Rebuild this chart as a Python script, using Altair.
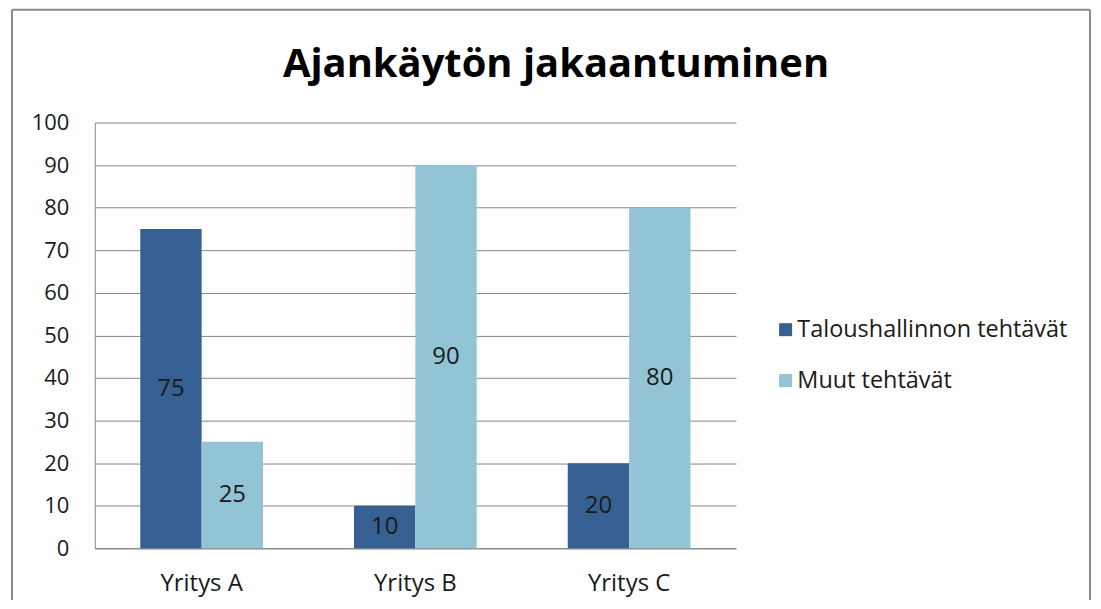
import altair as alt
import pandas as pd

companies = ["Yritys A", "Yritys B", "Yritys C"]
series_names = ["Taloushallinnon tehtävät", "Muut tehtävät"]
talous = [75, 10, 20]
muut = [25, 90, 80]
y_ticks = [0, 10, 20, 30, 40, 50, 60, 70, 80, 90, 100]
colors = ["#376092", "#93C4D6"]

rows = []
for c, t, m in zip(companies, talous, muut):
    rows.append({"company": c, "series": series_names[0], "value": t})
    rows.append({"company": c, "series": series_names[1], "value": m})
df = pd.DataFrame(rows)

FONT = "Open Sans"
GRID = "#868686"
TXT = "#1a1a1a"

base = alt.Chart(df).encode(
    x=alt.X(
        "company:N",
        sort=companies,
        scale=alt.Scale(paddingInner=0.426, paddingOuter=0.213),
        axis=alt.Axis(title=None, labelAngle=0, ticks=False, domainColor=GRID,
                      labelFontSize=24, labelPadding=23, labelColor=TXT, labelFont=FONT),
    ),
    xOffset=alt.XOffset("series:N", sort=series_names,
                        scale=alt.Scale(paddingInner=0, paddingOuter=0)),
)

bars = base.mark_bar().encode(
    y=alt.Y(
        "value:Q",
        scale=alt.Scale(domain=[0, 100]),
        axis=alt.Axis(values=y_ticks, title=None, ticks=False, domainColor=GRID,
                      gridColor=GRID, gridWidth=1, labelFontSize=22, labelPadding=26,
                      labelColor=TXT, labelFont=FONT),
    ),
    color=alt.Color(
        "series:N",
        sort=series_names,
        scale=alt.Scale(domain=series_names, range=colors),
        legend=alt.Legend(
            title=None, orient="none", legendX=681, legendY=196,
            symbolType="square", symbolSize=170, symbolStrokeWidth=0,
            labelFontSize=23.5, labelFont=FONT, labelColor=TXT, labelLimit=400,
            rowPadding=26, labelOffset=0,
        ),
    ),
)

labels = base.transform_calculate(mid="datum.value / 2").mark_text(
    fontSize=24, font=FONT, color=TXT, baseline="middle"
).encode(y=alt.Y("mid:Q", title=None), text=alt.Text("value:Q"))

frame_df = pd.DataFrame({"k": [0]})
border_color = "#8a8a8a"
left_rule = alt.Chart(frame_df).mark_rule(color=border_color, strokeWidth=2).encode(
    x=alt.value(-83), y=alt.value(-113), y2=alt.value(484))
right_rule = alt.Chart(frame_df).mark_rule(color=border_color, strokeWidth=2).encode(
    x=alt.value(998), y=alt.value(-113), y2=alt.value(484))
top_rule = alt.Chart(frame_df).mark_rule(color=border_color, strokeWidth=2).encode(
    x=alt.value(-83), x2=alt.value(998), y=alt.value(-113))

chart = alt.layer(bars, labels, left_rule, right_rule, top_rule).properties(
    width=643,
    height=427,
    autosize="none",
    padding={"left": 87, "top": 114, "right": 358, "bottom": 51},
    title=alt.TitleParams(
        "Ajankäytön jakaantuminen", fontSize=40, font=FONT, fontWeight="bold",
        anchor="middle", dx=141, dy=108, baseline="alphabetic", offset=0,
        color="#000000",
    ),
).configure_view(stroke=None)

chart.save("out.html", embed_options={"renderer": "svg", "actions": False})
